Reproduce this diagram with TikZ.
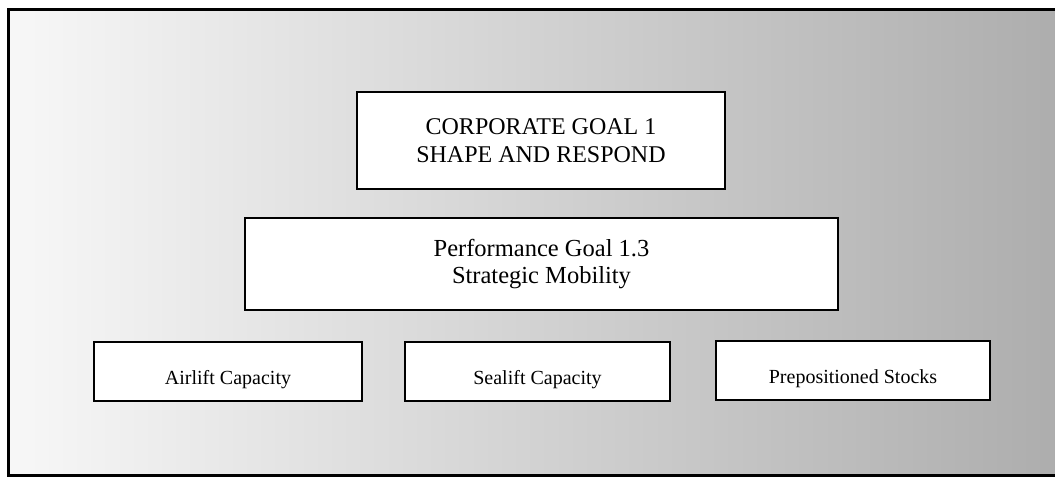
\documentclass[tikz,border=0pt]{standalone}
\usepackage{fontspec}
\setmainfont{Liberation Serif}
\begin{document}
\begin{tikzpicture}[x=1pt,y=-1pt,
  goalbox/.style={draw=black,line width=2.8pt,fill=white,rectangle,
    inner sep=0pt,outer sep=0pt,align=center},
  subbox/.style={goalbox,font=\fontsize{20}{24}\selectfont,
    text height=25pt,text depth=0pt},
  frameline/.style={line width=3pt,black}]
  \useasboundingbox (0,0) rectangle (1055,477);
  % backdrop, pale on the left and greyer to the right
  \shade[left color=black!3,middle color=black!12,right color=black!32]
    (8,9) rectangle (1055,475);
  % frame
  \coordinate (tr) at (1055,9);
  \coordinate (tl) at (8,9);
  \coordinate (bl) at (8,475);
  \coordinate (br) at (1055,475);
  \draw[frameline] (tr) -- (tl) -- (bl) -- (br);
  % goal hierarchy
  \node[goalbox,minimum width=368pt,minimum height=97pt,
        font=\fontsize{24}{28}\selectfont] (corp) at (541,140.5)
        {CORPORATE GOAL 1\\SHAPE AND RESPOND};
  \node[goalbox,minimum width=593pt,minimum height=92pt,
        font=\fontsize{24.5}{27}\selectfont] (perf) at (541.5,264)
        {Performance Goal 1.3\\Strategic Mobility};
  \node[subbox,minimum width=268pt,minimum height=59pt] (air) at (228,371.5)
        {Airlift Capacity};
  \node[subbox,minimum width=265pt,minimum height=59pt] (sea) at (537.5,371.5)
        {Sealift Capacity};
  \node[subbox,minimum width=274pt,minimum height=59pt] (pre) at (853,370.5)
        {Prepositioned Stocks};
\end{tikzpicture}
\end{document}
